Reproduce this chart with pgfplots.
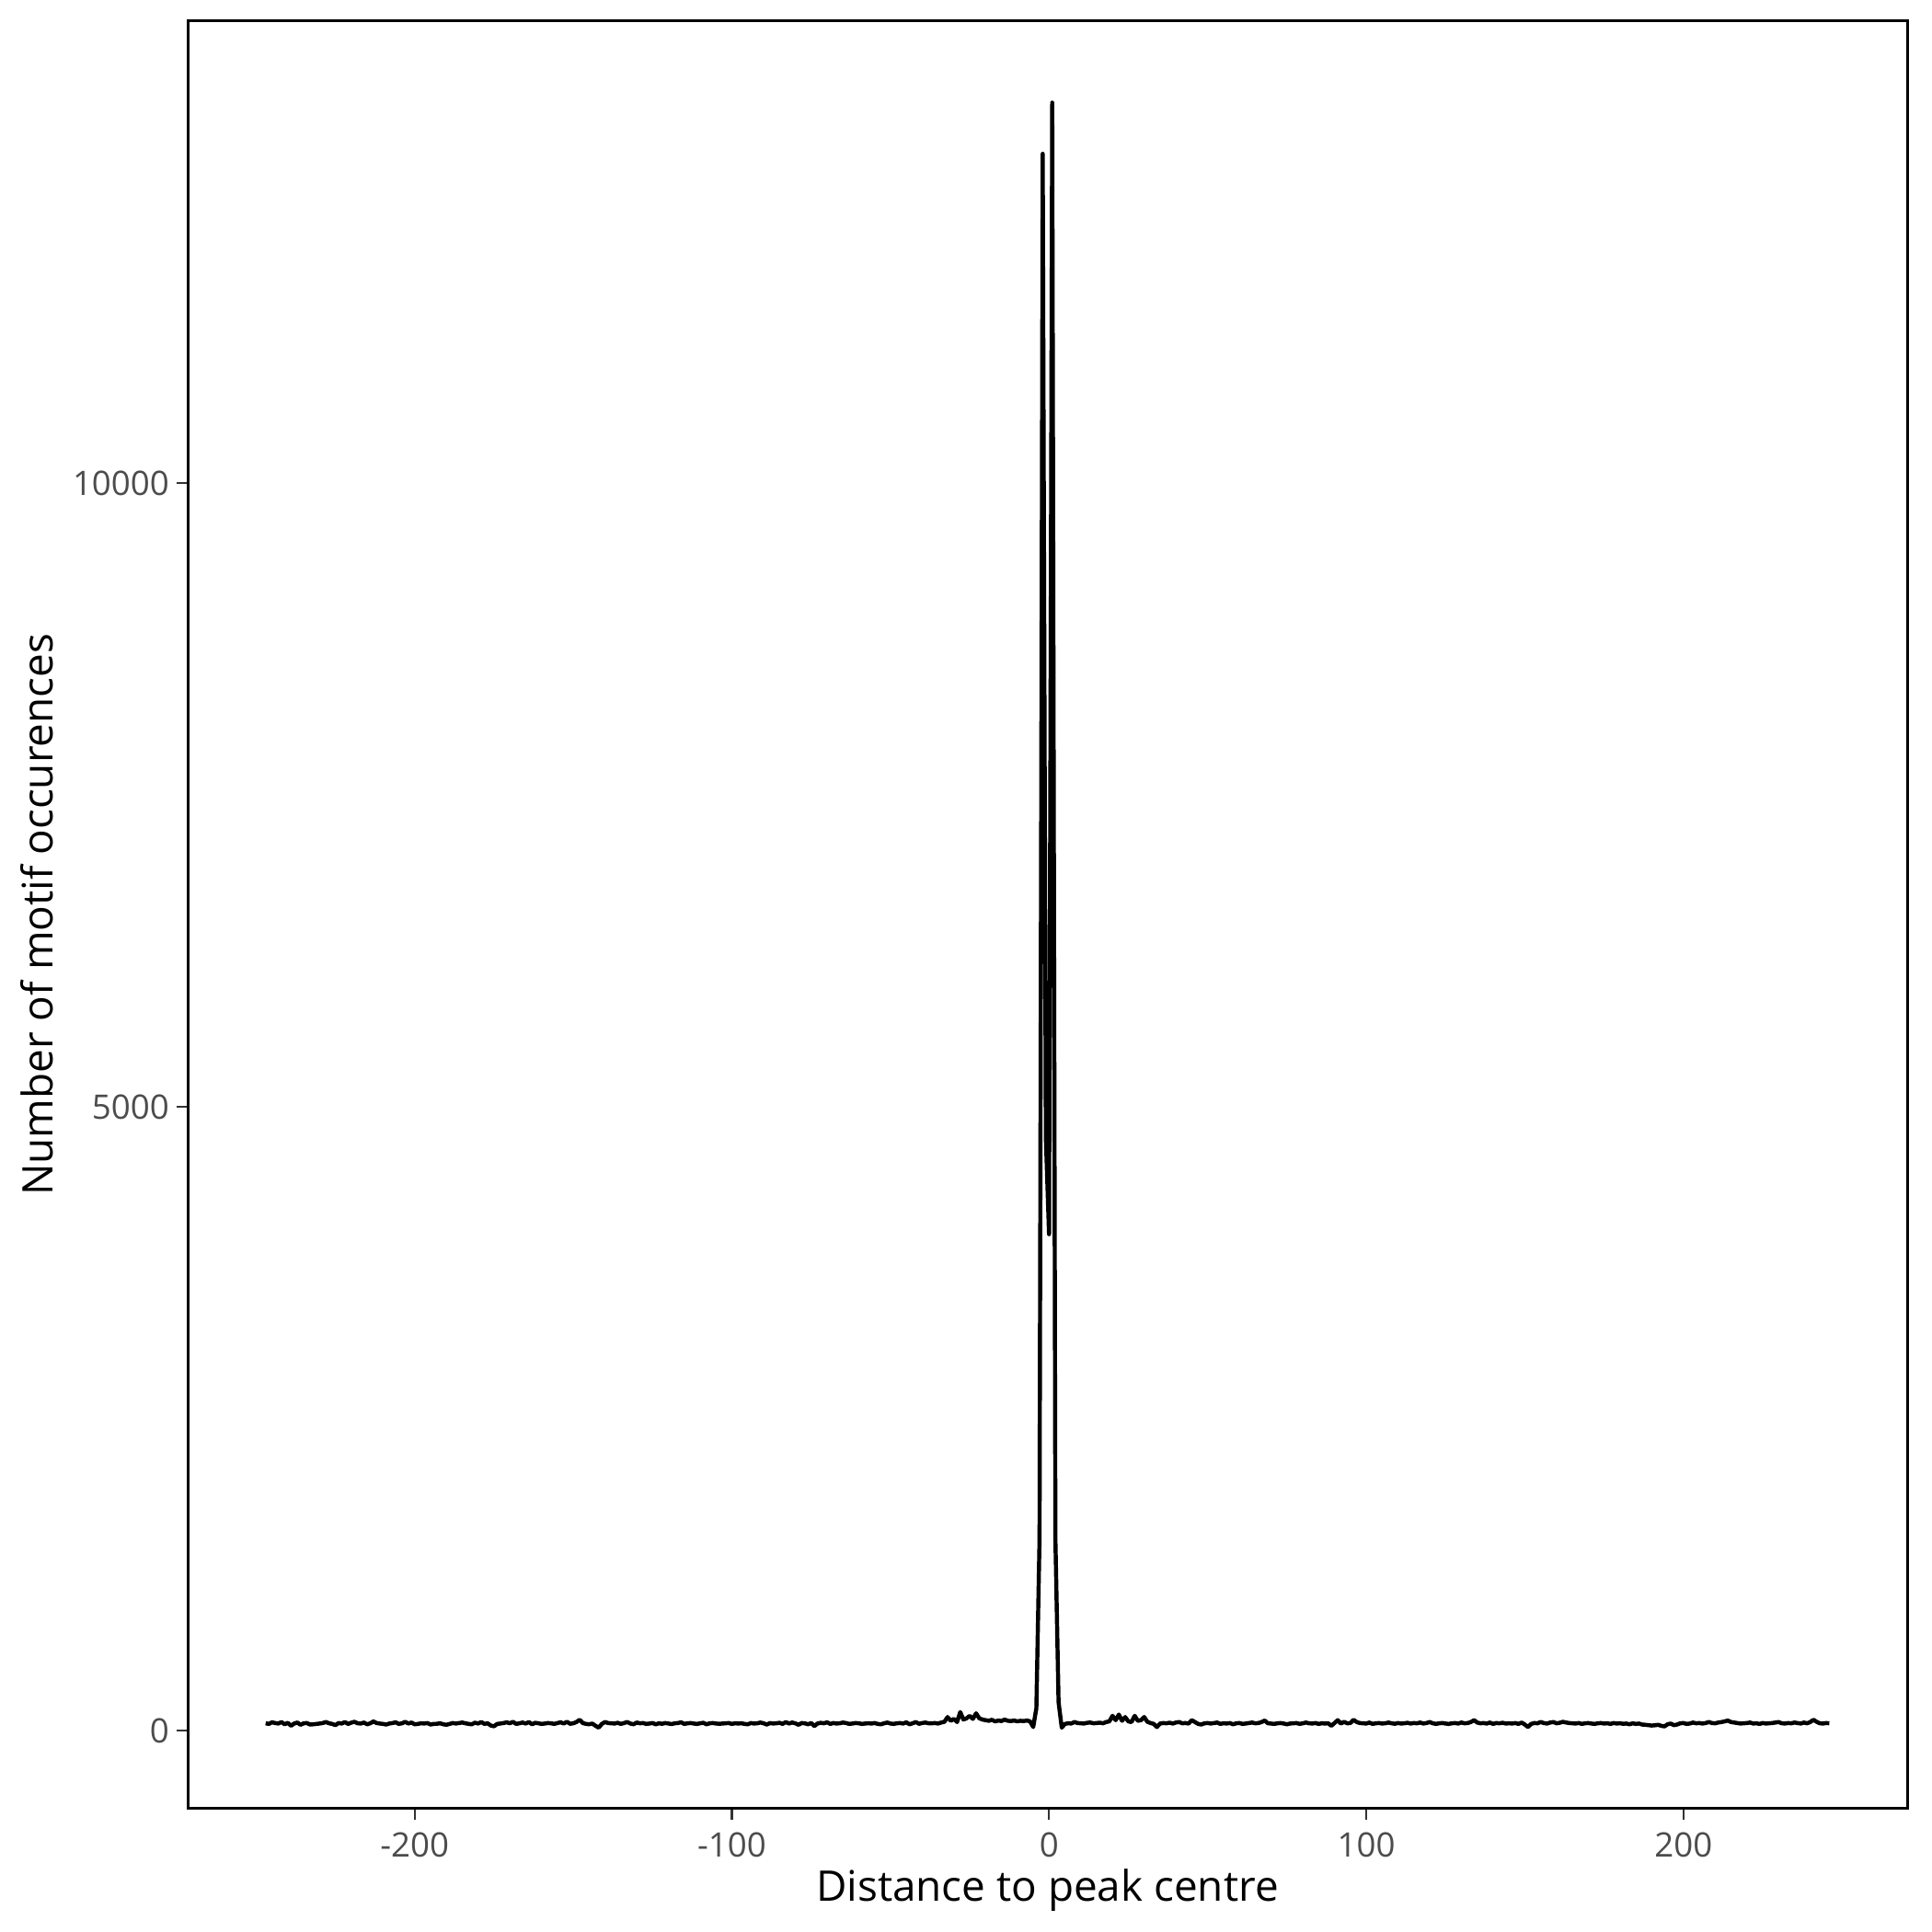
\documentclass[border=0pt]{standalone}
\usepackage{pgfplots}
\pgfplotsset{compat=1.18}
\usepackage{fontspec}
\setmainfont{Open Sans}
\begin{document}
\begin{tikzpicture}
\begin{axis}[
  at={(48.9bp,32.15bp)}, anchor=south west,
  scale only axis, width=448.7bp, height=466.4bp,
  xmin=-271.65, xmax=270.65, ymin=-625, ymax=13705,
  scaled x ticks=false, scaled y ticks=false,
  xtick={-200,-100,0,100,200}, xticklabels={-200,-100,0,100,200},
  ytick={0,5000,10000}, yticklabels={0,5000,10000},
  xtick pos=bottom, ytick pos=left,
  tick align=outside, major tick length=2.75bp,
  tick style={black!80, line width=0.55pt},
  axis line style={line width=0.6pt},
  ticklabel style={font=\fontsize{8.8bp}{10bp}\selectfont, text=black!70},
  yticklabel style={xshift=1.5pt},
  label style={font=\fontsize{11bp}{13bp}\selectfont},
  xlabel={Distance to peak centre},
  ylabel={Number of motif occurences},
  xlabel shift=-3.9pt, ylabel shift=-1.7pt,
  clip=true,
]
\addplot[black, line width=1.07pt, line join=round] table {
x y
-247 60
-246 55
-245 68
-244 62
-243 58
-242 70
-241 52
-240 64
-239 40
-238 58
-237 66
-236 48
-235 60
-234 62
-233 50
-232 52
-231 55
-230 58
-229 62
-228 70
-227 60
-226 55
-225 45
-224 62
-223 58
-222 70
-221 55
-220 65
-219 72
-218 60
-217 58
-216 66
-215 52
-214 60
-213 75
-212 62
-211 58
-210 55
-209 50
-208 58
-207 62
-206 68
-205 55
-204 60
-203 72
-202 58
-201 66
-200 52
-199 55
-198 60
-197 58
-196 62
-195 50
-194 55
-193 56
-192 60
-191 52
-190 48
-189 55
-188 62
-187 58
-186 62
-185 66
-184 60
-183 55
-182 52
-181 65
-180 58
-179 70
-178 55
-177 60
-176 42
-175 36
-174 55
-173 58
-172 62
-171 68
-170 60
-169 72
-168 55
-167 60
-166 66
-165 58
-164 70
-163 52
-162 64
-161 60
-160 55
-159 58
-158 62
-157 60
-156 55
-155 62
-154 68
-153 58
-152 72
-151 56
-150 60
-149 70
-148 88
-147 62
-146 55
-145 52
-144 58
-143 40
-142 25
-141 55
-140 70
-139 62
-138 60
-137 58
-136 64
-135 55
-134 62
-133 70
-132 58
-131 52
-130 66
-129 60
-128 62
-127 55
-126 58
-125 62
-124 52
-123 60
-122 56
-121 62
-120 58
-119 54
-118 60
-117 62
-116 68
-115 55
-114 60
-113 62
-112 58
-111 55
-110 60
-109 64
-108 52
-107 60
-106 62
-105 58
-104 56
-103 58
-102 60
-101 62
-100 55
-99 60
-98 58
-97 60
-96 55
-95 52
-94 62
-93 58
-92 60
-91 66
-90 60
-89 50
-88 62
-87 58
-86 60
-85 64
-84 55
-83 70
-82 58
-81 66
-80 60
-79 48
-78 62
-77 60
-76 52
-75 62
-74 38
-73 58
-72 64
-71 60
-70 68
-69 55
-68 62
-67 58
-66 60
-65 66
-64 62
-63 55
-62 58
-61 62
-60 60
-59 55
-58 58
-57 60
-56 58
-55 62
-54 55
-53 52
-52 60
-51 66
-50 58
-49 55
-48 60
-47 62
-46 58
-45 68
-44 52
-43 60
-42 70
-41 56
-40 62
-39 66
-38 60
-37 60
-36 62
-35 58
-34 66
-33 72
-32 110
-31 80
-30 95
-29 70
-28 150
-27 90
-26 100
-25 120
-24 95
-23 140
-22 100
-21 90
-20 85
-19 80
-18 88
-17 75
-16 82
-15 78
-14 90
-13 80
-12 78
-11 82
-10 76
-9 80
-8 78
-7 82
-6 76
-5 30
-4 180
-3 1540
-2 12640
-1 4750
0 3980
1 13050
2 1540
3 230
4 25
5 55
6 60
7 58
8 70
9 62
10 60
11 58
12 64
13 66
14 60
15 62
16 65
17 60
18 70
19 75
20 120
21 85
22 130
23 80
24 110
25 75
26 70
27 120
28 80
29 85
30 110
31 72
32 62
33 55
34 30
35 58
36 62
37 60
38 65
39 58
40 66
41 70
42 60
43 62
44 58
45 85
46 70
47 55
48 50
49 60
50 62
51 58
52 62
53 66
54 55
55 60
56 58
57 62
58 52
59 60
60 62
61 55
62 58
63 62
64 66
65 60
66 62
67 70
68 82
69 60
70 58
71 55
72 60
73 62
74 58
75 52
76 58
77 60
78 62
79 55
80 60
81 66
82 60
83 58
84 62
85 55
86 60
87 58
88 60
89 40
90 62
91 85
92 58
93 72
94 60
95 62
96 88
97 70
98 62
99 60
100 58
101 66
102 55
103 60
104 62
105 58
106 60
107 66
108 60
109 56
110 62
111 58
112 60
113 64
114 58
115 62
116 60
117 66
118 58
119 62
120 70
121 60
122 55
123 60
124 62
125 58
126 55
127 60
128 62
129 58
130 66
131 60
132 62
133 70
134 85
135 66
136 60
137 62
138 58
139 66
140 55
141 62
142 60
143 64
144 58
145 60
146 58
147 62
148 55
149 66
150 50
151 30
152 55
153 62
154 60
155 70
156 62
157 58
158 66
159 70
160 60
161 64
162 72
163 66
164 62
165 60
166 58
167 62
168 55
169 60
170 62
171 58
172 55
173 60
174 62
175 58
176 60
177 55
178 62
179 58
180 60
181 56
182 58
183 52
184 60
185 55
186 58
187 50
188 48
189 45
190 42
191 44
192 48
193 40
194 35
195 52
196 58
197 45
198 50
199 60
200 62
201 55
202 58
203 66
204 60
205 62
206 58
207 62
208 70
209 62
210 60
211 66
212 70
213 75
214 82
215 70
216 66
217 62
218 58
219 60
220 62
221 66
222 58
223 60
224 55
225 62
226 58
227 60
228 62
229 66
230 70
231 60
232 58
233 62
234 60
235 66
236 62
237 58
238 66
239 60
240 70
241 88
242 72
243 60
244 58
245 62
246 60
};
\draw[line width=1.1pt] (rel axis cs:0,1) -- (rel axis cs:0,0) -- (rel axis cs:1,0);
\end{axis}
\pgfresetboundingbox
\path (0,0) rectangle (504bp,504bp);
\end{tikzpicture}
\end{document}
